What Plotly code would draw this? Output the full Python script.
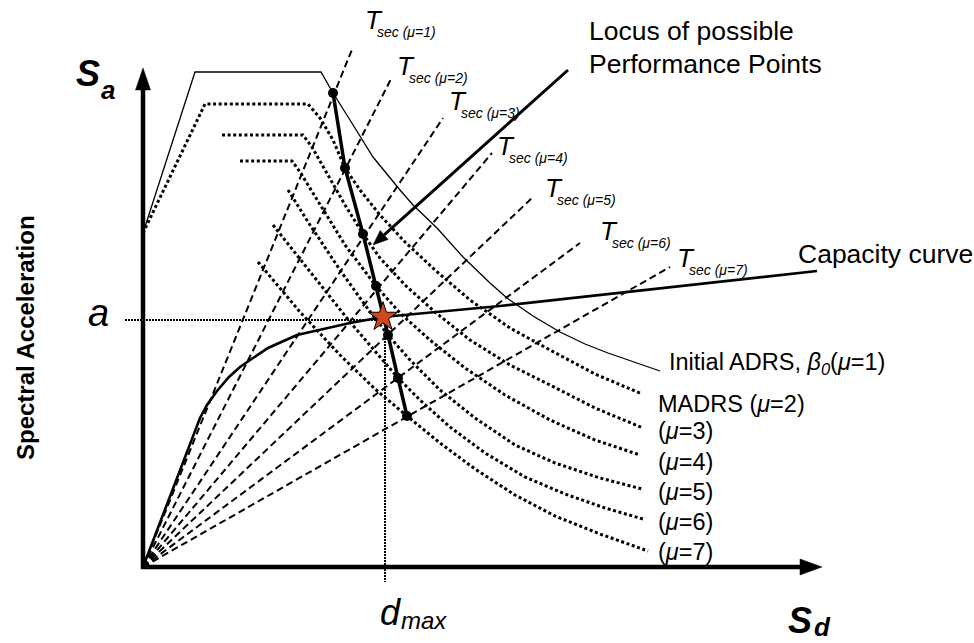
import math
import plotly.graph_objects as go

FONT = "Liberation Sans, Arial, sans-serif"

# ---------------- data (chart units: Sd to the right, Sa upward, origin at axes corner) ----
initial_adrs_sd = [0, 52, 178, 190, 207, 230, 257, 270, 294, 320, 347, 364, 390, 417, 442, 465, 517]
initial_adrs_sa = [334, 495, 495, 474, 447, 410, 377, 362, 339, 310, 284, 269, 251, 235, 223, 214, 196]

madrs2_sd = [0, 62, 165, 177, 190, 202, 217, 237, 262, 292, 327, 367, 407, 452, 499]
madrs2_sa = [334, 463, 463, 449, 427, 399, 377, 352, 325, 297, 267, 239, 217, 193, 173]

madrs3_sd = [79, 160, 169, 182, 202, 220, 237, 262, 292, 327, 367, 407, 452, 500]
madrs3_sa = [432, 432, 420, 397, 362, 333, 309, 282, 255, 227, 202, 182, 159, 139]

madrs4_sd = [97, 149, 157, 177, 202, 233, 257, 287, 322, 362, 407, 452, 497]
madrs4_sa = [406, 406, 395, 362, 322, 281, 254, 227, 199, 172, 147, 127, 112]

madrs5_sd = [145, 167, 197, 222, 245, 267, 297, 332, 372, 412, 457, 499]
madrs5_sa = [377, 342, 297, 262, 232, 207, 177, 149, 122, 104, 89, 78]

madrs6_sd = [130, 167, 207, 255, 277, 307, 342, 382, 422, 462, 500]
madrs6_sa = [342, 295, 245, 189, 167, 140, 114, 90, 73, 59, 48]

madrs7_sd = [115, 157, 197, 232, 264, 297, 332, 372, 412, 457, 505]
madrs7_sa = [305, 255, 212, 178, 151, 124, 98, 72, 51, 33, 16]

capacity_sd = [0, 57, 64, 74, 86, 97, 110, 125, 154, 207, 240, 357, 674]
capacity_sa = [0, 149, 162, 176, 190, 200, 209, 219, 232, 244, 250, 261, 296]

# secant-period lines: from the origin to these ends
tsec_mu = [1, 2, 3, 4, 5, 6, 7]
tsec_end_sd = [210, 249, 300, 349, 389, 437, 527]
tsec_end_sa = [520, 490, 449, 414, 369, 324, 300]

# locus of possible performance points (one per ductility)
locus_sd = [190, 202, 220, 233, 245, 255, 264]
locus_sa = [474, 399, 333, 281, 232, 189, 151]

perf_sd, perf_sa = 240, 250     # performance point
a_level = 247                   # "a"
d_max = 242                     # "d_max"

adrs_label_text = [
    "Initial ADRS, <i>β<sub>0</sub></i>(<i>μ</i>=1)",
    "MADRS (<i>μ</i>=2)",
    "(<i>μ</i>=3)", "(<i>μ</i>=4)", "(<i>μ</i>=5)", "(<i>μ</i>=6)", "(<i>μ</i>=7)",
]

# ---------------- layout constants ----------------
X0, X1 = -143, 831
Y0, Y1 = -76, 567
AX_X_END = 679
AX_Y_END = 499

adrs_label_x = [524, 513, 513, 513, 513, 513, 513]
adrs_label_y = [204, 163, 136, 105, 75, 45, 15]
tsec_label_x = [220, 252, 304, 352, 400, 455, 532]
tsec_label_y = [547, 501, 466, 421, 379, 336, 309]

fig = go.Figure()


def line(xs, ys, width, dash=None, color="black"):
    fig.add_trace(go.Scatter(x=xs, y=ys, mode="lines", hoverinfo="skip",
                             line=dict(color=color, width=width, dash=dash)))


def arrowhead(tip_x, tip_y, ux, uy, length, half_w):
    n = math.hypot(ux, uy)
    ux, uy = ux / n, uy / n
    bx, by = tip_x - length * ux, tip_y - length * uy
    px, py = -uy, ux
    fig.add_trace(go.Scatter(
        x=[tip_x, bx + half_w * px, bx - half_w * px, tip_x],
        y=[tip_y, by + half_w * py, by - half_w * py, tip_y],
        mode="lines", fill="toself", fillcolor="black",
        line=dict(color="black", width=0.5), hoverinfo="skip"))
    return bx, by


DOT = "3px,2.6px"
DASH = "7px,4px"

# MADRS dotted curves
for xs, ys in [(madrs2_sd, madrs2_sa), (madrs3_sd, madrs3_sa), (madrs4_sd, madrs4_sa),
               (madrs5_sd, madrs5_sa), (madrs6_sd, madrs6_sa), (madrs7_sd, madrs7_sa)]:
    line(xs, ys, 3, DOT)

# secant-period dashed lines
for ex, ey in zip(tsec_end_sd, tsec_end_sa):
    line([0, ex], [0, ey], 2, DASH)

# initial ADRS
line(initial_adrs_sd, initial_adrs_sa, 1.3)

# capacity curve
line(capacity_sd, capacity_sa, 2.6)

# a / d_max guide lines
line([-18, perf_sd], [a_level, a_level], 2, "2px,1px")
line([d_max, d_max], [perf_sa - 12, -15], 2, "2px,1px")

# locus line and points
line(locus_sd, locus_sa, 3.5)
fig.add_trace(go.Scatter(x=locus_sd, y=locus_sa, mode="markers", hoverinfo="skip",
                         marker=dict(color="black", size=10)))

# arrow to the locus
tail = (425, 497)
tip = (230, 322)
bx, by = arrowhead(tip[0], tip[1], tip[0] - tail[0], tip[1] - tail[1], 15, 6)
line([tail[0], bx], [tail[1], by], 3)

# performance point
fig.add_trace(go.Scatter(x=[perf_sd], y=[perf_sa], mode="markers", hoverinfo="skip",
                         marker=dict(symbol="star", size=22, color="#D2471C",
                                     line=dict(color="black", width=1))))

# axes with arrowheads
bx, by = arrowhead(0, AX_Y_END, 0, 1, 22, 7.5)
line([0, 0], [-2, by], 4.5)
bx, by = arrowhead(AX_X_END, 0, 1, 0, 22, 8)
line([-2, bx], [0, 0], 4.5)

ann = []


def text(x, y, t, size, xanchor="left", yanchor="middle", angle=0):
    ann.append(dict(x=x, y=y, xref="x", yref="y", text=t, showarrow=False,
                    xanchor=xanchor, yanchor=yanchor, textangle=angle,
                    font=dict(family=FONT, size=size, color="black")))


for t, x, y in zip(adrs_label_text, adrs_label_x, adrs_label_y):
    text(x, y, t, 23.5)

for mu, x, y in zip(tsec_mu, tsec_label_x, tsec_label_y):
    text(x, y, "<i>T</i>", 26)
    text(x + 12, y - 12, "<i>sec (μ=%d)</i>" % mu, 14)

text(444, 536, "Locus of possible", 26.5)
text(444, 503, "Performance Points", 26.5)
text(653, 313, "Capacity curve", 26.5)
text(-45, 254, "<i>a</i>", 38, xanchor="center")
text(-55, 494, "<b><i>S</i></b>", 36, xanchor="center")
text(-35, 477, "<b><i>a</i></b>", 26, xanchor="center")
text(657, -53, "<b><i>S</i></b>", 36, xanchor="center")
text(679, -60, "<b><i>d</i></b>", 26, xanchor="center")
text(247, -45, "<i>d</i>", 36, xanchor="center")
text(281, -53, "<i>max</i>", 24, xanchor="center")
text(-118, 229, "<b>Spectral Acceleration</b>", 24, xanchor="center", angle=-90)

fig.update_layout(
    width=974, height=643, autosize=False,
    margin=dict(l=0, r=0, t=0, b=0, pad=0),
    paper_bgcolor="white", plot_bgcolor="white",
    showlegend=False,
    xaxis=dict(range=[X0, X1], visible=False, fixedrange=True),
    yaxis=dict(range=[Y0, Y1], visible=False, fixedrange=True),
    annotations=ann,
)

fig.write_html("out.html", config={"displayModeBar": False},
               post_script="document.body.style.margin='0px';")
